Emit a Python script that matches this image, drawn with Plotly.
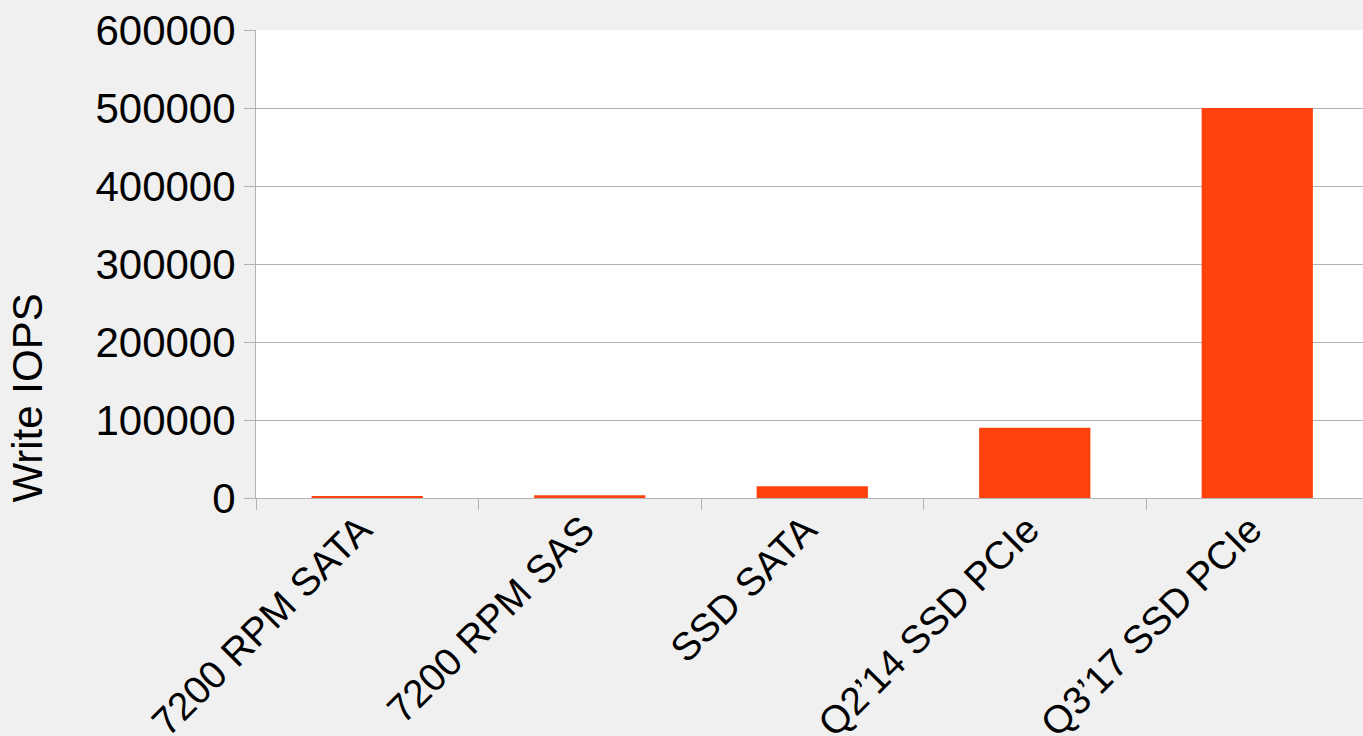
import plotly.graph_objects as go

categories = ["7200 RPM SATA", "7200 RPM SAS", "SSD SATA", "Q2’14 SSD PCIe", "Q3’17 SSD PCIe"]
write_iops = [1500, 3500, 15000, 90000, 500000]
y_ticks = [0, 100000, 200000, 300000, 400000, 500000, 600000]

W, H = 1363, 736
L, T, B = 256, 30, 237.5
FONT = dict(family="Liberation Sans, Arial, sans-serif", size=42, color="#000000")
XFONT = dict(family="Liberation Sans, Arial, sans-serif", size=39, color="#000000")
GRID = "#b3b3b3"

fig = go.Figure(go.Bar(x=categories, y=write_iops, marker=dict(color="#ff420e", line=dict(width=0))))

plot_w = W - L
cat_w = 222.5
x_max = -0.5 + plot_w / cat_w

fig.update_layout(
    width=W, height=H,
    margin=dict(l=L, r=0, t=T, b=B, pad=0, autoexpand=False),
    paper_bgcolor="#f0f0f0",
    plot_bgcolor="#ffffff",
    font=FONT,
    bargap=0.5,
    showlegend=False,
)
fig.update_xaxes(
    type="category",
    range=[-0.5, x_max],
    tickangle=-45,
    ticks="outside", ticklen=11, tickcolor=GRID, tickwidth=1,
    tickson="boundaries",
    ticklabelstandoff=-8,
    ticklabelshift=-7,
    showline=True, linecolor=GRID, linewidth=1,
    showgrid=False,
    automargin=False,
    tickfont=XFONT,
)
fig.update_yaxes(
    range=[0, 600000],
    tickvals=y_ticks,
    ticktext=[str(v) for v in y_ticks],
    ticks="outside", ticklen=11, tickcolor=GRID, tickwidth=1,
    ticklabelstandoff=0,
    showline=True, linecolor=GRID, linewidth=1,
    showgrid=True, gridcolor=GRID, gridwidth=1,
    zeroline=False,
    automargin=False,
    tickfont=FONT,
)
plot_h = H - T - B
fig.add_annotation(
    text="Write IOPS", textangle=-90,
    xref="paper", yref="paper",
    x=(28 - L) / plot_w, y=(H - B - 399) / plot_h,
    xanchor="center", yanchor="middle",
    showarrow=False, font=FONT,
)

fig.write_html(
    "out.html",
    config={"displayModeBar": False},
    post_script="document.body.style.margin='0';document.body.style.overflow='hidden';",
)
